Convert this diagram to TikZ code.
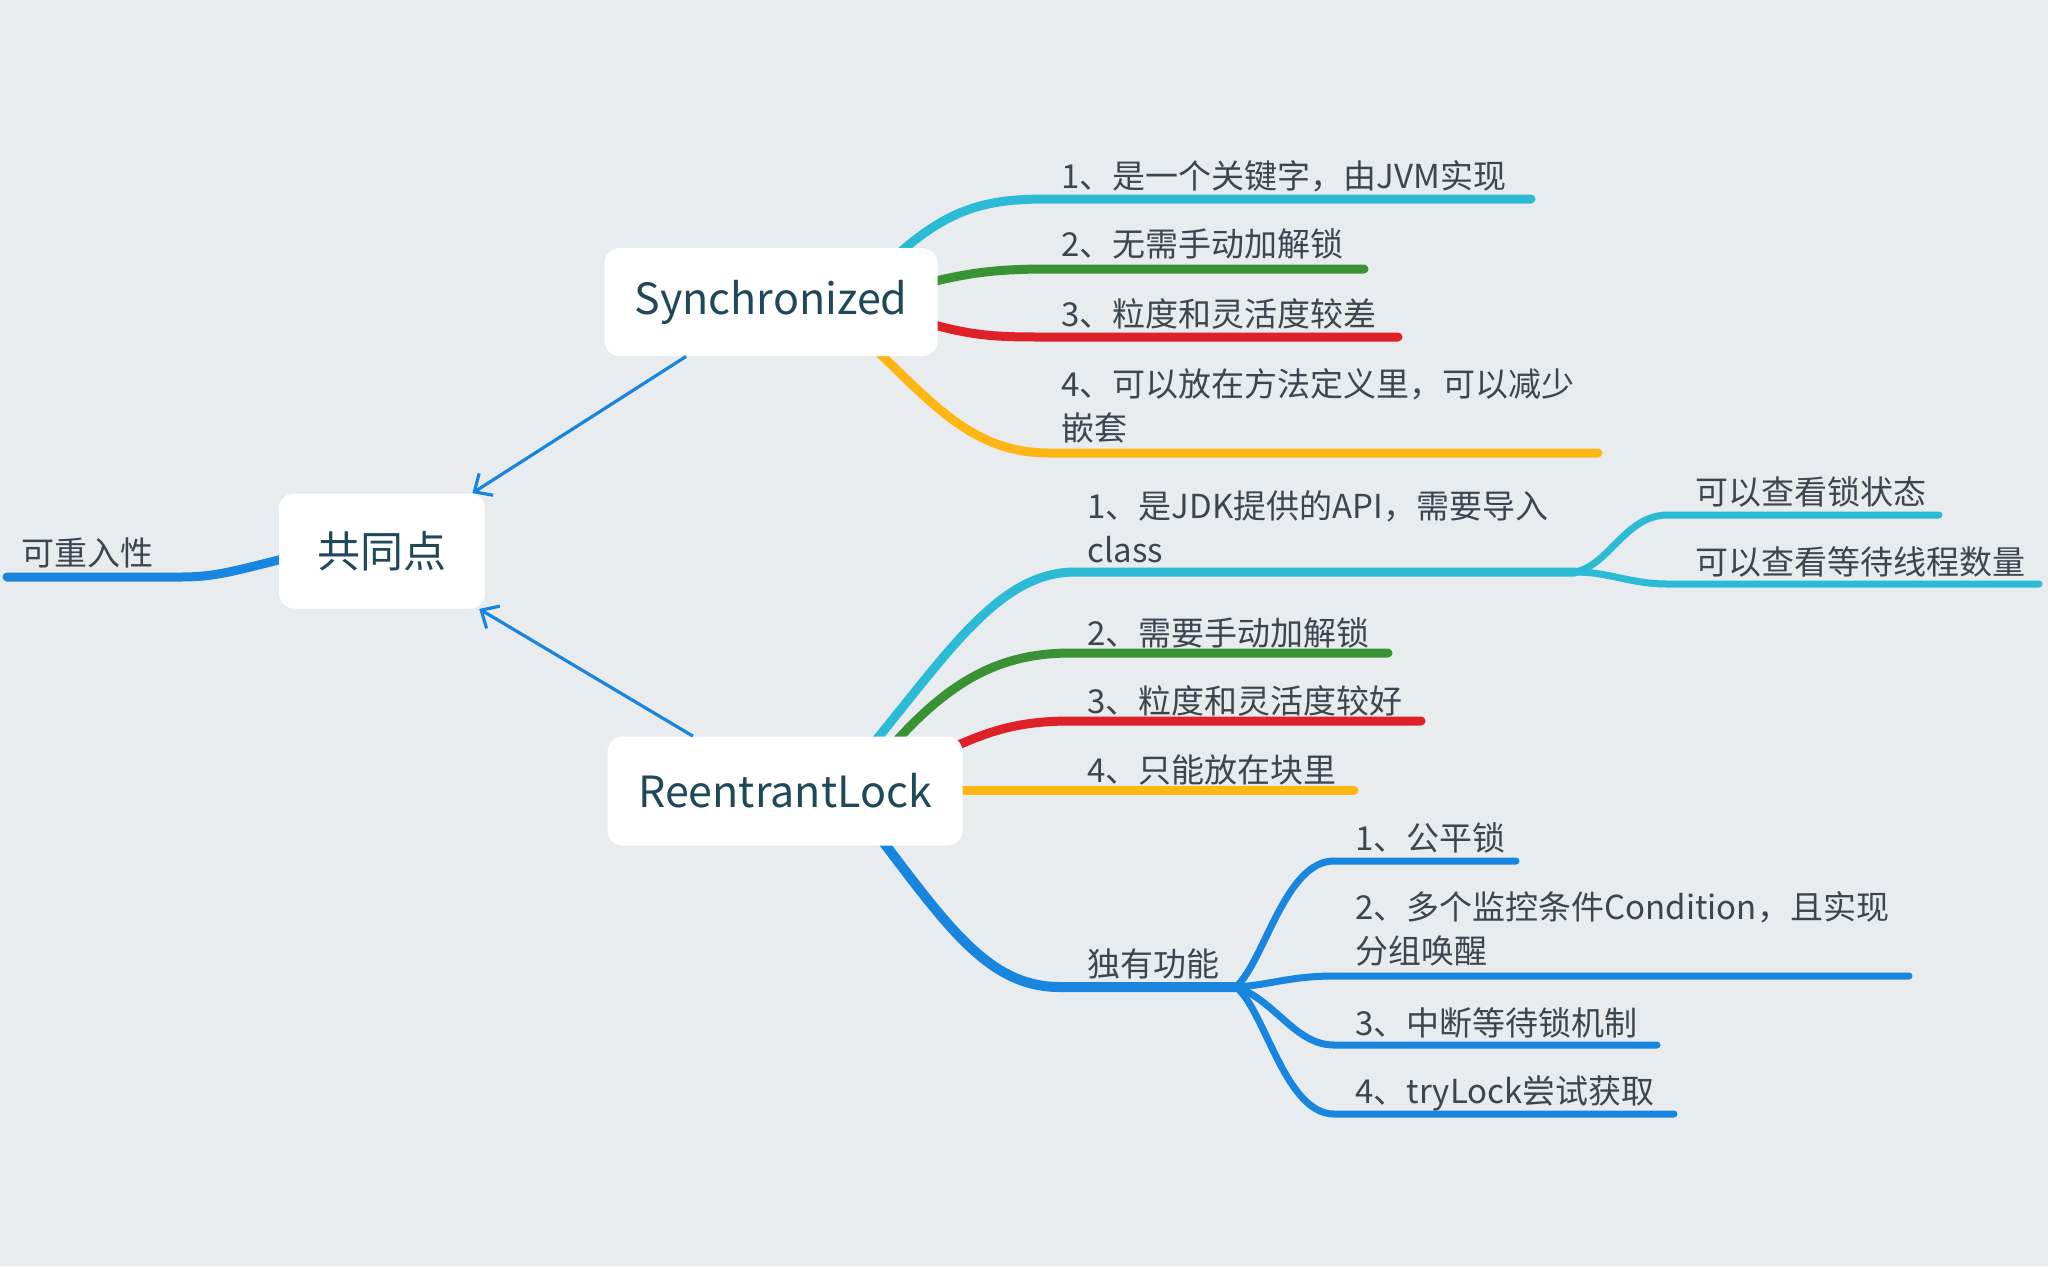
\documentclass[tikz,border=0pt]{standalone}
\usepackage{fontspec}
\setmainfont{Noto Sans CJK SC}
\usetikzlibrary{arrows.meta,calc,backgrounds}
\definecolor{mapBack}{RGB}{232,236,239}
\definecolor{mapText}{RGB}{61,70,79}
\definecolor{mapTopic}{RGB}{31,73,89}
\definecolor{mapCyan}{RGB}{43,187,212}
\definecolor{mapGreen}{RGB}{57,146,52}
\definecolor{mapRed}{RGB}{222,32,40}
\definecolor{mapYellow}{RGB}{253,182,20}
\definecolor{mapBlue}{RGB}{24,133,222}
\pgfdeclarelayer{lines}
\pgfsetlayers{background,lines,main}

\begin{document}
\begin{tikzpicture}[x=0.5pt, y=-0.5pt]
    % Styles
    \tikzstyle{topic} = [rectangle, fill=white, text=mapTopic, rounded corners=7.5pt, inner sep=0pt, font=\fontsize{21.5pt}{26pt}\selectfont]
    \tikzstyle{leaf} = [anchor=base west, text=mapText, inner sep=0pt, align=left, font=\fontsize{16.5pt}{22pt}\selectfont]
    \tikzstyle{branch} = [line width=4.5pt, line cap=round]
    \tikzstyle{twig} = [line width=3.5pt, line cap=round]
    \tikzstyle{pointer} = [draw=mapBlue, line width=1.6pt, -{Straight Barb[length=7pt, width=13pt, line width=1.6pt]}]

    \useasboundingbox (0,0) rectangle (2048,1266);
    \begin{pgfonlayer}{background}
        \fill[mapBack] (0,0) rectangle (2048,1266);
    \end{pgfonlayer}

    % Topics
    \node[topic, minimum width=166.5pt, minimum height=54pt] (sync) at (771,302) {Synchronized};
    \node[topic, minimum width=103pt, minimum height=57.5pt] (common) at (382,551) {共同点};
    \node[topic, minimum width=177.5pt, minimum height=54.5pt] (reentrant) at (785,791) {ReentrantLock};

    \draw[pointer] (sync) -- (common);
    \draw[pointer] (reentrant) -- (common);

    % Leaves (multi-line ones sit on their last baseline)
    \node[leaf] (same) at (21,565) {可重入性};
    \node[leaf] (syncOne) at (1061,188) {1、是一个关键字，由JVM实现};
    \node[leaf] (syncTwo) at (1061,256) {2、无需手动加解锁};
    \node[leaf] (syncThree) at (1061,326) {3、粒度和灵活度较差};
    \node[leaf] (syncFour) at (1061,440) {4、可以放在方法定义里，可以减少\\嵌套};
    \node[leaf] (reOne) at (1087,562) {1、是JDK提供的API，需要导入\\class};
    \node[leaf] (reOneA) at (1695,504) {可以查看锁状态};
    \node[leaf] (reOneB) at (1695,574) {可以查看等待线程数量};
    \node[leaf] (reTwo) at (1087,645) {2、需要手动加解锁};
    \node[leaf] (reThree) at (1087,713) {3、粒度和灵活度较好};
    \node[leaf] (reFour) at (1087,782) {4、只能放在块里};
    \node[leaf] (reOwn) at (1087,976) {独有功能};
    \node[leaf] (ownOne) at (1355,850) {1、公平锁};
    \node[leaf] (ownTwo) at (1355,963) {2、多个监控条件Condition，且实现\\分组唤醒};
    \node[leaf] (ownThree) at (1355,1035) {3、中断等待锁机制};
    \node[leaf] (ownFour) at (1355,1103) {4、tryLock尝试获取};

    % Branches
    \begin{pgfonlayer}{lines}
        \coordinate (sameEnd) at (7,577);
        \coordinate (syncOneEnd) at (1531,199);
        \coordinate (syncTwoEnd) at (1364,269);
        \coordinate (syncThreeEnd) at (1398,337);
        \coordinate (syncFourEnd) at (1598,453);
        \coordinate (reJoin) at (1575,572);
        \coordinate (reOneAEnd) at (1939,515);
        \coordinate (reOneBEnd) at (2039,584);
        \coordinate (reTwoEnd) at (1388,653);
        \coordinate (reThreeEnd) at (1421,721);
        \coordinate (reFourEnd) at (1354,790);
        \coordinate (ownJoin) at (1236,987);
        \coordinate (ownOneEnd) at (1516,861);
        \coordinate (ownTwoEnd) at (1909,976);
        \coordinate (ownThreeEnd) at (1657,1045);
        \coordinate (ownFourEnd) at (1674,1114);

        \draw[branch, mapBlue] ($(common.west)+(12,6)$) .. controls (230,572) and (215,577) .. (179,577) -- (sameEnd);

        \draw[branch, mapCyan] ($(sync.north east)+(-48,14)$) .. controls (950,205) and (990,199) .. (1049,199) -- (syncOneEnd);
        \draw[branch, mapGreen] ($(sync.east)+(-14,-18)$) .. controls (970,272) and (1000,269) .. (1049,269) -- (syncTwoEnd);
        \draw[branch, mapRed] ($(sync.east)+(-14,20)$) .. controls (975,337) and (1000,337) .. (1049,337) -- (syncThreeEnd);
        \draw[branch, mapYellow] ($(sync.south east)+(-72,-16)$) .. controls (930,400) and (970,453) .. (1049,453) -- (syncFourEnd);

        \draw[branch, mapCyan] ($(reentrant.north east)+(-95,14)$) .. controls (950,650) and (1000,572) .. (1075,572) -- (reJoin);
        \draw[twig, mapCyan] (reJoin) .. controls (1610,565) and (1625,515) .. (1668,515) -- (reOneAEnd);
        \draw[twig, mapCyan] (reJoin) .. controls (1610,572) and (1630,584) .. (1668,584) -- (reOneBEnd);
        \draw[branch, mapGreen] ($(reentrant.north east)+(-73,12)$) .. controls (950,680) and (1000,653) .. (1071,653) -- (reTwoEnd);
        \draw[branch, mapRed] ($(reentrant.north east)+(-18,15)$) .. controls (990,730) and (1020,721) .. (1071,721) -- (reThreeEnd);
        \draw[branch, mapYellow] ($(reentrant.east)+(-12,-1)$) -- (reFourEnd);
        \draw[branch, mapBlue, line width=5pt] ($(reentrant.south east)+(-85,-11)$) .. controls (950,930) and (990,987) .. (1060,987) -- (ownJoin);
        \draw[twig, mapBlue] (ownJoin) .. controls (1265,960) and (1285,861) .. (1334,861) -- (ownOneEnd);
        \draw[twig, mapBlue] (ownJoin) .. controls (1270,985) and (1290,976) .. (1334,976) -- (ownTwoEnd);
        \draw[twig, mapBlue] (ownJoin) .. controls (1275,1000) and (1295,1045) .. (1334,1045) -- (ownThreeEnd);
        \draw[twig, mapBlue] (ownJoin) .. controls (1265,1010) and (1285,1114) .. (1334,1114) -- (ownFourEnd);
    \end{pgfonlayer}
\end{tikzpicture}
\end{document}
